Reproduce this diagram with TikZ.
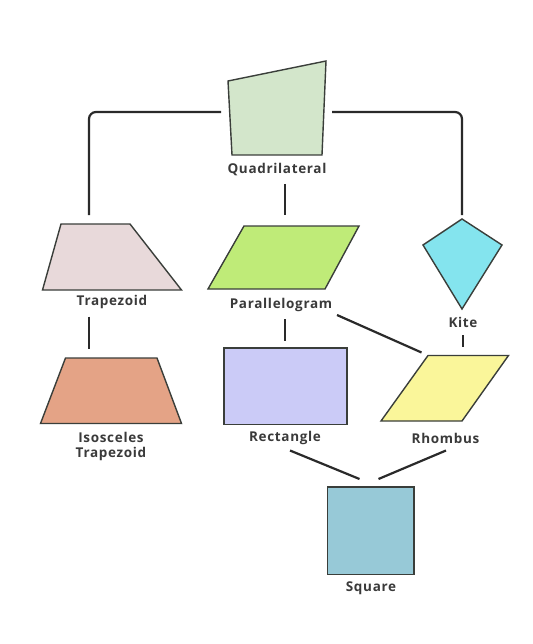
\documentclass[tikz,border=0pt]{standalone}
\usepackage{fontspec}
\IfFontExistsTF{Open Sans SemiBold}
  {\setmainfont{Open Sans}[BoldFont={Open Sans SemiBold},LetterSpace=5]}
  {\setmainfont{Open Sans}[LetterSpace=5]}
\definecolor{edge}{HTML}{3A3E3A}
\definecolor{linkc}{HTML}{2A2A2A}
\definecolor{txt}{HTML}{3A3A3A}
\definecolor{quadfill}{HTML}{D3E6CB}
\definecolor{trapfill}{HTML}{E8D9DA}
\definecolor{parafill}{HTML}{BFEB78}
\definecolor{kitefill}{HTML}{84E4EE}
\definecolor{isofill}{HTML}{E4A386}
\definecolor{rectfill}{HTML}{CBCBF7}
\definecolor{rhomfill}{HTML}{FAF69A}
\definecolor{sqfill}{HTML}{97C9D7}
\tikzset{
  fig/.style={draw=edge,line width=1.4pt},
  link/.style={draw=linkc,line width=2.2pt},
  lbl/.style={font=\fontsize{13.5}{15.5}\selectfont\bfseries,text=txt,align=center}
}
\begin{document}
\begin{tikzpicture}[x=1pt,y=-1pt]
\useasboundingbox (0,0) rectangle (532,644);

\draw[fig,fill=quadfill] (228,81) -- (326,61) -- (322,155) -- (232,155) -- cycle;
\draw[fig,fill=trapfill] (61,224) -- (130,224) -- (181.5,290) -- (42.5,290) -- cycle;
\draw[fig,fill=parafill] (244,226) -- (359,226) -- (325,289) -- (208,289) -- cycle;
\draw[fig,fill=kitefill] (462,219) -- (502,245) -- (462,309) -- (423,245) -- cycle;
\draw[fig,fill=isofill] (65.5,358) -- (157,358) -- (181.5,423.5) -- (40.5,423.5) -- cycle;
\draw[fig,fill=rectfill] (224,348) rectangle (347,424.5);
\draw[fig,fill=rhomfill] (428,355.5) -- (508.5,355.5) -- (462,421) -- (381,421) -- cycle;
\draw[fig,fill=sqfill] (327.5,487) rectangle (414,574.5);

\node[lbl] (quad) at (277,170)   {Quadrilateral};
\node[lbl] (trap) at (112,302)   {Trapezoid};
\node[lbl] (para) at (281,305)   {Parallelogram};
\node[lbl] (kite) at (463,322)   {Kite};
\node[lbl] (iso)  at (111,446.5) {Isosceles\\Trapezoid};
\node[lbl] (rect) at (285,438)   {Rectangle};
\node[lbl] (rhom) at (445.5,438) {Rhombus};
\node[lbl] (sq)   at (371,588)   {Square};

\coordinate (quad-l) at (221,112);
\coordinate (quad-r) at (332,112);
\coordinate (quad-d) at (285,184);
\coordinate (trap-t) at (89,215);
\coordinate (trap-d) at (89,316.5);
\coordinate (para-t) at (285,215);
\coordinate (para-d) at (285,319);
\coordinate (para-x) at (337,315);
\coordinate (kite-t) at (462,215);
\coordinate (kite-d) at (463,335);
\coordinate (iso-t)  at (89,349);
\coordinate (rect-t) at (285,340.5);
\coordinate (rect-d) at (290,450.5);
\coordinate (rhom-t) at (463,347);
\coordinate (rhom-x) at (421.5,352.5);
\coordinate (rhom-d) at (446,450.5);
\coordinate (sq-l)   at (359.5,479);
\coordinate (sq-r)   at (378.5,479);

\draw[link,rounded corners=7pt] (quad-l) -| (trap-t);
\draw[link,rounded corners=7pt] (quad-r) -| (kite-t);
\draw[link] (quad-d) -- (para-t);
\draw[link] (trap-d) -- (iso-t);
\draw[link] (para-d) -- (rect-t);
\draw[link] (para-x) -- (rhom-x);
\draw[link] (kite-d) -- (rhom-t);
\draw[link] (rect-d) -- (sq-l);
\draw[link] (rhom-d) -- (sq-r);
\end{tikzpicture}
\end{document}
